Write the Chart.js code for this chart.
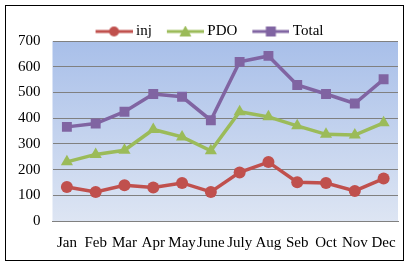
<!DOCTYPE html>
<html>
<head>
<meta charset="utf-8" />
<title>inj / PDO / Total</title>
<script src="https://cdn.jsdelivr.net/npm/chart.js@4.4.0/dist/chart.umd.min.js"></script>
<style>
	body { margin: 0; padding: 0; background: #fff; }
	#box { position: absolute; left: 5px; top: 5px; width: 397px; height: 254px; border: 1px solid #000; }
</style>
</head>
<body>
<div id="box"><canvas id="chart"></canvas></div>
<script>

var months = ['Jan', 'Feb', 'Mar', 'Apr', 'May', 'June', 'July', 'Aug', 'Seb', 'Oct', 'Nov', 'Dec'];
var inj = [132, 113, 139, 130, 148, 113, 189, 229, 151, 148, 117, 165];
var pdo = [230, 259, 275, 356, 327, 273, 425, 405, 370, 337, 334, 382];
var total = [366, 379, 425, 494, 483, 392, 619, 642, 529, 494, 457, 551];

var FONT = "'Liberation Serif', 'Times New Roman', serif";

// little line + marker picture for the legend, Excel style
// blank on the left keeps the items apart, line runs 4px past the box on the right
function legendIcon(color, style) {
	var c = document.createElement('canvas');
	c.width = 56; c.height = 12;
	var g = c.getContext('2d');
	g.strokeStyle = color;
	g.lineWidth = 3;
	g.beginPath(); g.moveTo(19, 6); g.lineTo(56, 6); g.stroke();
	g.fillStyle = color;
	var m = 37.5;
	if (style == 'circle') {
		g.beginPath(); g.arc(m, 6, 5, 0, Math.PI * 2); g.fill();
	} else if (style == 'triangle') {
		g.beginPath(); g.moveTo(m, 0); g.lineTo(m + 6, 11); g.lineTo(m - 6, 11); g.closePath(); g.fill();
	} else {
		g.fillRect(m - 5, 1, 10, 10);
	}
	return c;
}

var plotBg = {
	id: 'plotBg',
	afterLayout: function (chart) {
		// legend sits a bit lower than Chart.js puts it
		chart.legend.top += 8;
		chart.legend.bottom += 8;
	},
	beforeDraw: function (chart) {
		var a = chart.chartArea, ctx = chart.ctx;
		var grad = ctx.createLinearGradient(0, a.top, 0, a.bottom);
		grad.addColorStop(0, '#a8bfe9');
		grad.addColorStop(1, '#dde5f3');
		ctx.save();
		ctx.fillStyle = grad;
		ctx.fillRect(a.left, a.top, a.right - a.left, a.bottom - a.top);
		ctx.restore();
	}
};

function ds(label, data, color, style, radius) {
	return {
		label: label,
		data: data,
		borderColor: color,
		backgroundColor: color,
		borderWidth: 3.5,
		pointStyle: style,
		pointRadius: radius,
		pointHoverRadius: radius,
		pointBorderWidth: 0,
		tension: 0,
		icon: legendIcon(color, style)
	};
}

var chart = new Chart(document.getElementById('chart'), {
	type: 'line',
	data: {
		labels: months,
		datasets: [
			ds('inj', inj, '#c0504d', 'circle', 6),
			ds('PDO', pdo, '#9bbb59', 'triangle', 7),
			ds('Total', total, '#8064a2', 'rect', 7)
		]
	},
	options: {
		responsive: true,
		maintainAspectRatio: false,
		animation: false,
		layout: { autoPadding: false, padding: { left: 0, right: 5, top: 10, bottom: -5 } },
		plugins: {
			tooltip: { enabled: false },
			legend: {
				position: 'top',
				labels: {
					usePointStyle: true,
					pointStyleWidth: 48,
					boxHeight: 12,
					padding: 0,
					color: '#000',
					font: { family: FONT, size: 15 },
					generateLabels: function (chart) {
						return chart.data.datasets.map(function (d, i) {
							return {
								text: d.label,
								pointStyle: d.icon,
								fillStyle: d.borderColor,
								strokeStyle: d.borderColor,
								lineWidth: 0,
								datasetIndex: i,
								fontColor: '#000'
							};
						});
					}
				}
			}
		},
		scales: {
			x: {
				offset: true,
				grid: { display: false, drawTicks: false },
				border: { display: true, color: '#808080' },
				ticks: {
					autoSkip: false, maxRotation: 0, padding: 13,
					color: '#000', font: { family: FONT, size: 15 }
				},
				afterFit: function (s) { s.paddingLeft = 0; s.paddingRight = 0; }
			},
			y: {
				min: 0,
				max: 700,
				grid: { color: '#808080', lineWidth: 1, drawTicks: false },
				border: { display: false },
				ticks: {
					stepSize: 100, padding: 12,
					color: '#000', font: { family: FONT, size: 15 }
				}
			}
		}
	},
	plugins: [plotBg]
});

</script>
</body>
</html>
